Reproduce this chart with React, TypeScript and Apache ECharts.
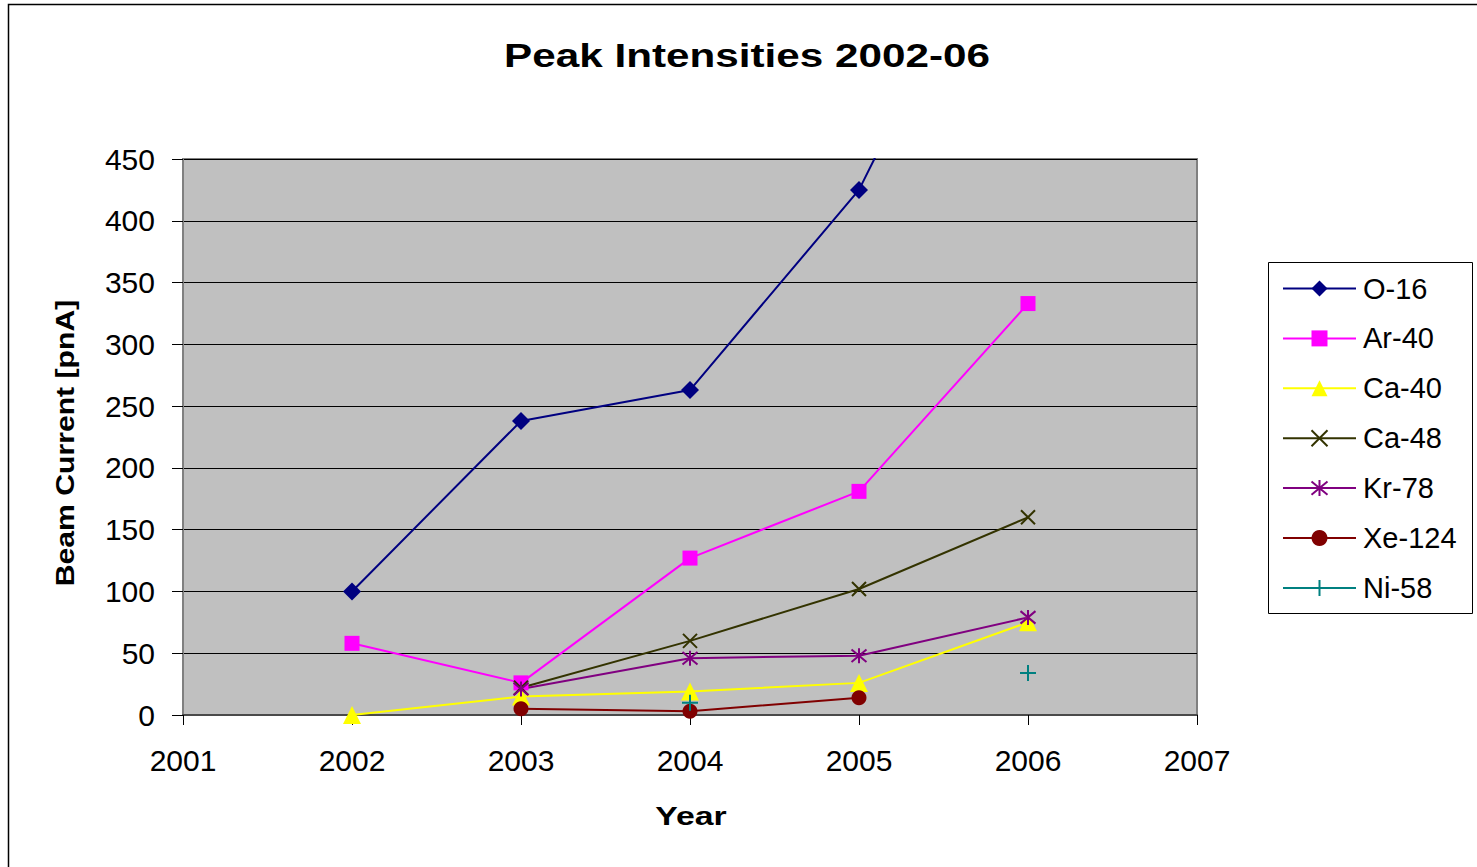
import React, { useEffect, useRef } from "react";
import * as echarts from "echarts";

// Peak beam currents per ion species, by year
const years = [2002, 2003, 2004, 2005, 2006];
const o16 = [100, 238, 263, 425, 700];
const ar40 = [58, 26, 127, 181, 333];
const ca40 = [0, 15, 19, 26, 75];
const ca48 = [null, 22, 60, 102, 160];
const kr78 = [null, 21, 46, 48, 79];
const xe124 = [null, 5, 3, 14, null];
const ni58 = [null, null, 10, null, 34];

const xTicks = { min: 2001, max: 2007, interval: 1 };
const yTicks = { min: 0, max: 450, interval: 50 };

const FONT = "'Liberation Sans', Arial, Helvetica, sans-serif";

const toPairs = (vals: (number | null)[]) =>
  years.map((y, i) => [y, vals[i] === null ? "-" : vals[i]]);

const CROSS = "path://M0 0L10 10M10 0L0 10";
const STAR = "path://M0 0L10 10M10 0L0 10M5 -1L5 11";
const PLUS = "path://M5 0L5 10M0 5L10 5";

function makeSeries(
  name: string,
  vals: (number | null)[],
  color: string,
  symbol: string,
  symbolSize: number,
  stroked = false
) {
  return {
    name,
    type: "line",
    data: toPairs(vals),
    symbol,
    symbolSize,
    connectNulls: false,
    lineStyle: { color, width: 2 },
    itemStyle: stroked
      ? { color: "rgba(0,0,0,0)", borderColor: color, borderWidth: 2 }
      : { color, borderColor: color, borderWidth: 0 },
  };
}

export default function App() {
  const ref = useRef<HTMLDivElement>(null);

  useEffect(() => {
    if (!ref.current) return;
    const chart = echarts.init(ref.current, undefined, { renderer: "svg" });

    chart.setOption({
      animation: false,
      backgroundColor: "#ffffff",
      textStyle: { fontFamily: FONT },
      grid: {
        left: 183,
        top: 159,
        width: 1014,
        height: 556,
        show: true,
        backgroundColor: "#c0c0c0",
        borderColor: "#808080",
        borderWidth: 2,
        containLabel: false,
      },
      xAxis: {
        type: "value",
        ...xTicks,
        axisLine: { show: true, onZero: false, lineStyle: { color: "#4a4a4a", width: 2 } },
        axisTick: { show: true, length: 10, lineStyle: { color: "#000", width: 1 } },
        axisLabel: {
          fontSize: 30,
          color: "#000",
          margin: 30,
          fontFamily: FONT,
          formatter: (v: number) => String(v),
        },
        splitLine: { show: false },
      },
      yAxis: {
        type: "value",
        ...yTicks,
        axisLine: { show: true, lineStyle: { color: "#808080", width: 2 } },
        axisTick: { show: true, length: 11, lineStyle: { color: "#000", width: 1 } },
        axisLabel: { fontSize: 30, color: "#000", margin: 28, fontFamily: FONT },
        splitLine: { show: true, lineStyle: { color: "#000", width: 1 } },
      },
      legend: {
        orient: "vertical",
        left: 1282,
        top: 274,
        padding: 0,
        itemWidth: 73,
        itemHeight: 20,
        itemGap: 20.9,
        z: 10,
        textStyle: { fontSize: 29, lineHeight: 28, color: "#000", fontFamily: FONT, padding: [0, 0, 0, 2] },
        data: ["O-16", "Ar-40", "Ca-40", "Ca-48", "Kr-78", "Xe-124", "Ni-58"],
      },
      graphic: [
        {
          type: "rect",
          z: -1,
          silent: true,
          shape: { x: 8.5, y: 4.5, width: 1500, height: 900 },
          style: { fill: "none", stroke: "#000", lineWidth: 1.5 },
        },
        {
          type: "rect",
          z: 1,
          silent: true,
          shape: { x: 1268.5, y: 262.5, width: 204, height: 351 },
          style: { fill: "#fff", stroke: "#000", lineWidth: 1 },
        },
        {
          type: "text",
          x: 747,
          y: 56,
          scaleX: 1.28,
          style: {
            text: "Peak Intensities 2002-06",
            fontSize: 33,
            fontWeight: "bold",
            fontFamily: FONT,
            fill: "#000",
            textAlign: "center",
            textVerticalAlign: "middle",
          },
        },
        {
          type: "text",
          x: 65,
          y: 443,
          rotation: Math.PI / 2,
          scaleX: 1.16,
          style: {
            text: "Beam Current [pnA]",
            fontSize: 26,
            fontWeight: "bold",
            fontFamily: FONT,
            fill: "#000",
            textAlign: "center",
            textVerticalAlign: "middle",
          },
        },
        {
          type: "text",
          x: 691,
          y: 816,
          scaleX: 1.3,
          style: {
            text: "Year",
            fontSize: 26,
            fontWeight: "bold",
            fontFamily: FONT,
            fill: "#000",
            textAlign: "center",
            textVerticalAlign: "middle",
          },
        },
      ],
      series: [
        makeSeries("O-16", o16, "#000080", "diamond", 18),
        makeSeries("Ar-40", ar40, "#ff00ff", "rect", 15),
        makeSeries("Ca-40", ca40, "#ffff00", "triangle", 18),
        makeSeries("Ca-48", ca48, "#333300", CROSS, 14, true),
        makeSeries("Kr-78", kr78, "#800080", STAR, 15, true),
        makeSeries("Xe-124", xe124, "#800000", "circle", 15),
        makeSeries("Ni-58", ni58, "#008080", PLUS, 16, true),
      ],
    });

    return () => chart.dispose();
  }, []);

  return (
    <div
      ref={ref}
      style={{ position: "fixed", left: 0, top: 0, width: 1477, height: 867 }}
    />
  );
}
